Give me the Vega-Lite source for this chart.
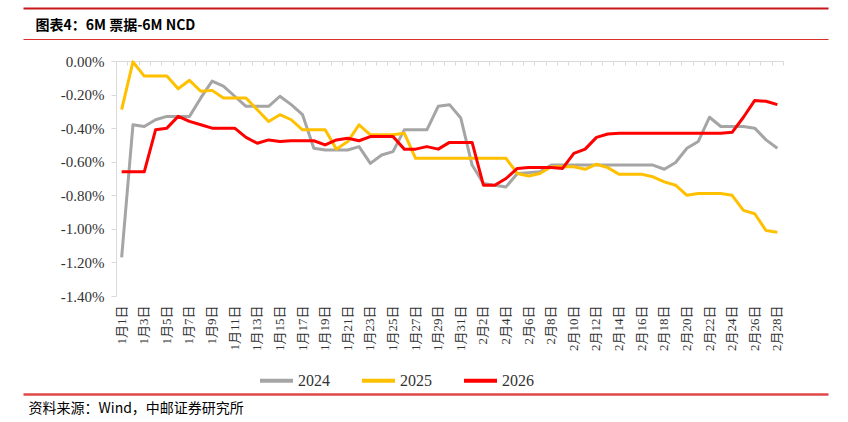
{
  "$schema": "https://vega.github.io/schema/vega-lite/v6.json",
  "width": 667,
  "height": 235,
  "autosize": {"type": "none"},
  "padding": {"left": 116, "top": 61, "right": 65, "bottom": 126},
  "background": "white",
  "config": {"view": {"stroke": null}},
  "data": {"values": [
    {"d":"1月1日","2024":-1.17,"2025":-0.29,"2026":-0.66},
    {"d":"1月2日","2024":-0.38,"2025":-0.005,"2026":-0.66},
    {"d":"1月3日","2024":-0.39,"2025":-0.09,"2026":-0.66},
    {"d":"1月4日","2024":-0.35,"2025":-0.09,"2026":-0.41},
    {"d":"1月5日","2024":-0.33,"2025":-0.09,"2026":-0.40},
    {"d":"1月6日","2024":-0.33,"2025":-0.165,"2026":-0.33},
    {"d":"1月7日","2024":-0.33,"2025":-0.115,"2026":-0.36},
    {"d":"1月8日","2024":-0.22,"2025":-0.18,"2026":-0.38},
    {"d":"1月9日","2024":-0.12,"2025":-0.175,"2026":-0.40},
    {"d":"1月10日","2024":-0.15,"2025":-0.22,"2026":-0.40},
    {"d":"1月11日","2024":-0.21,"2025":-0.22,"2026":-0.40},
    {"d":"1月12日","2024":-0.27,"2025":-0.22,"2026":-0.455},
    {"d":"1月13日","2024":-0.27,"2025":-0.29,"2026":-0.49},
    {"d":"1月14日","2024":-0.27,"2025":-0.36,"2026":-0.47},
    {"d":"1月15日","2024":-0.21,"2025":-0.32,"2026":-0.48},
    {"d":"1月16日","2024":-0.26,"2025":-0.35,"2026":-0.475},
    {"d":"1月17日","2024":-0.32,"2025":-0.41,"2026":-0.475},
    {"d":"1月18日","2024":-0.52,"2025":-0.41,"2026":-0.475},
    {"d":"1月19日","2024":-0.53,"2025":-0.41,"2026":-0.50},
    {"d":"1月20日","2024":-0.53,"2025":-0.525,"2026":-0.47},
    {"d":"1月21日","2024":-0.53,"2025":-0.48,"2026":-0.46},
    {"d":"1月22日","2024":-0.51,"2025":-0.38,"2026":-0.475},
    {"d":"1月23日","2024":-0.61,"2025":-0.44,"2026":-0.45},
    {"d":"1月24日","2024":-0.56,"2025":-0.44,"2026":-0.45},
    {"d":"1月25日","2024":-0.54,"2025":-0.44,"2026":-0.45},
    {"d":"1月26日","2024":-0.41,"2025":-0.43,"2026":-0.525},
    {"d":"1月27日","2024":-0.41,"2025":-0.58,"2026":-0.525},
    {"d":"1月28日","2024":-0.41,"2025":-0.58,"2026":-0.51},
    {"d":"1月29日","2024":-0.27,"2025":-0.58,"2026":-0.525},
    {"d":"1月30日","2024":-0.26,"2025":-0.58,"2026":-0.485},
    {"d":"1月31日","2024":-0.34,"2025":-0.58,"2026":-0.485},
    {"d":"2月1日","2024":-0.62,"2025":-0.58,"2026":-0.485},
    {"d":"2月2日","2024":-0.73,"2025":-0.58,"2026":-0.74},
    {"d":"2月3日","2024":-0.74,"2025":-0.58,"2026":-0.74},
    {"d":"2月4日","2024":-0.75,"2025":-0.58,"2026":-0.70},
    {"d":"2月5日","2024":-0.67,"2025":-0.67,"2026":-0.64},
    {"d":"2月6日","2024":-0.665,"2025":-0.685,"2026":-0.635},
    {"d":"2月7日","2024":-0.66,"2025":-0.67,"2026":-0.635},
    {"d":"2月8日","2024":-0.62,"2025":-0.63,"2026":-0.635},
    {"d":"2月9日","2024":-0.62,"2025":-0.63,"2026":-0.64},
    {"d":"2月10日","2024":-0.62,"2025":-0.63,"2026":-0.55},
    {"d":"2月11日","2024":-0.62,"2025":-0.645,"2026":-0.525},
    {"d":"2月12日","2024":-0.62,"2025":-0.615,"2026":-0.455},
    {"d":"2月13日","2024":-0.62,"2025":-0.635,"2026":-0.435},
    {"d":"2月14日","2024":-0.62,"2025":-0.675,"2026":-0.43},
    {"d":"2月15日","2024":-0.62,"2025":-0.675,"2026":-0.43},
    {"d":"2月16日","2024":-0.62,"2025":-0.675,"2026":-0.43},
    {"d":"2月17日","2024":-0.62,"2025":-0.69,"2026":-0.43},
    {"d":"2月18日","2024":-0.645,"2025":-0.72,"2026":-0.43},
    {"d":"2月19日","2024":-0.605,"2025":-0.74,"2026":-0.43},
    {"d":"2月20日","2024":-0.52,"2025":-0.80,"2026":-0.43},
    {"d":"2月21日","2024":-0.48,"2025":-0.79,"2026":-0.43},
    {"d":"2月22日","2024":-0.335,"2025":-0.79,"2026":-0.43},
    {"d":"2月23日","2024":-0.39,"2025":-0.79,"2026":-0.43},
    {"d":"2月24日","2024":-0.39,"2025":-0.80,"2026":-0.425},
    {"d":"2月25日","2024":-0.39,"2025":-0.89,"2026":-0.335},
    {"d":"2月26日","2024":-0.40,"2025":-0.91,"2026":-0.235},
    {"d":"2月27日","2024":-0.47,"2025":-1.01,"2026":-0.24},
    {"d":"2月28日","2024":-0.52,"2025":-1.02,"2026":-0.26}
  ]},
  "transform": [{"fold": ["2024", "2025", "2026"], "as": ["year", "v"]}],
  "resolve": {"scale": {"x": "independent"}, "axis": {"x": "independent"}},
  "layer": [
    {
      "mark": {"type": "line", "strokeWidth": 3, "strokeJoin": "round"},
      "encoding": {
        "x": {
          "field": "d", "type": "nominal", "sort": null,
          "scale": {"type": "band", "paddingInner": 0, "paddingOuter": 0},
          "axis": {"orient": "top", "labels": false, "title": null, "domainColor": "#d9d9d9", "domainWidth": 1, "tickColor": "#d9d9d9", "tickSize": -4, "tickBand": "extent"}
        },
        "y": {
          "field": "v", "type": "quantitative",
          "scale": {"domain": [-1.4, 0], "nice": false, "zero": false},
          "axis": {
            "values": [0, -0.2, -0.4, -0.6, -0.8, -1.0, -1.2, -1.4],
            "grid": false, "title": null,
            "domainColor": "#d9d9d9", "tickColor": "#d9d9d9", "tickSize": 5, "labelPadding": 7,
            "labelFont": "Liberation Serif", "labelFontSize": 15, "labelColor": "#333333",
            "labelExpr": "replace(format(datum.value, '.2f'), '\u2212', '-') + '%'"
          }
        },
        "color": {
          "field": "year", "type": "nominal",
          "scale": {"domain": ["2024", "2025", "2026"], "range": ["#A5A5A5", "#FFC000", "#FF0000"]},
          "legend": {
            "orient": "none", "legendX": 142, "legendY": 301, "direction": "horizontal", "title": null,
            "symbolType": "stroke", "symbolSize": 1089, "symbolStrokeWidth": 4,
            "labelFont": "Liberation Serif", "labelFontSize": 16, "labelColor": "#333333",
            "columnPadding": 24, "labelOffset": 3
          }
        }
      }
    },
    {
      "mark": {"type": "point", "opacity": 0},
      "encoding": {
        "x": {
          "field": "d", "type": "nominal", "sort": null,
          "scale": {"type": "band", "paddingInner": 0, "paddingOuter": 0},
          "axis": {
            "orient": "bottom", "title": null, "ticks": false, "domain": false,
            "values": ["1月1日","1月3日","1月5日","1月7日","1月9日","1月11日","1月13日","1月15日","1月17日","1月19日","1月21日","1月23日","1月25日","1月27日","1月29日","1月31日","2月2日","2月4日","2月6日","2月8日","2月10日","2月12日","2月14日","2月16日","2月18日","2月20日","2月22日","2月24日","2月26日","2月28日"],
            "labelAngle": 270, "labelPadding": 9, "labelOverlap": false,
            "labelFont": "Liberation Serif, Noto Sans CJK SC", "labelFontSize": 13, "labelColor": "#333333"
          }
        }
      }
    },
    {
      "mark": {"type": "point", "opacity": 0},
      "encoding": {
        "x": {
          "field": "d", "type": "nominal",
          "scale": {"type": "point", "range": [-93, 712]},
          "axis": {"orient": "top", "offset": 53, "labels": false, "ticks": false, "title": null, "domainColor": "#C8161D", "domainWidth": 2}
        }
      }
    },
    {
      "mark": {"type": "point", "opacity": 0},
      "encoding": {
        "x": {
          "field": "d", "type": "nominal",
          "scale": {"type": "point", "range": [-93, 712]},
          "axis": {
            "orient": "top", "offset": 22, "labels": false, "ticks": false,
            "domainColor": "#D9302C", "domainWidth": 1.2,
            "title": "图表4：6M 票据-6M NCD",
            "titleFont": "Noto Sans CJK SC", "titleFontSize": 14, "titleFontWeight": "bold", "titleColor": "#000000",
            "titleAnchor": "start", "titleAlign": "left", "titleX": -81, "titlePadding": 7
          }
        }
      }
    },
    {
      "mark": {"type": "point", "opacity": 0},
      "encoding": {
        "x": {
          "field": "d", "type": "nominal",
          "scale": {"type": "point", "range": [-93, 712]},
          "axis": {
            "orient": "bottom", "offset": 98, "labels": false, "ticks": false,
            "domain": true, "domainColor": "#E04848", "domainWidth": 2.4, "domainOpacity": 1,
            "title": "资料来源：Wind，中邮证券研究所",
            "titleFont": "Noto Sans CJK SC", "titleFontSize": 14, "titleFontWeight": "normal", "titleColor": "#000000",
            "titleAnchor": "start", "titleAlign": "left", "titleX": -88, "titlePadding": 7
          }
        }
      }
    }
  ]
}
